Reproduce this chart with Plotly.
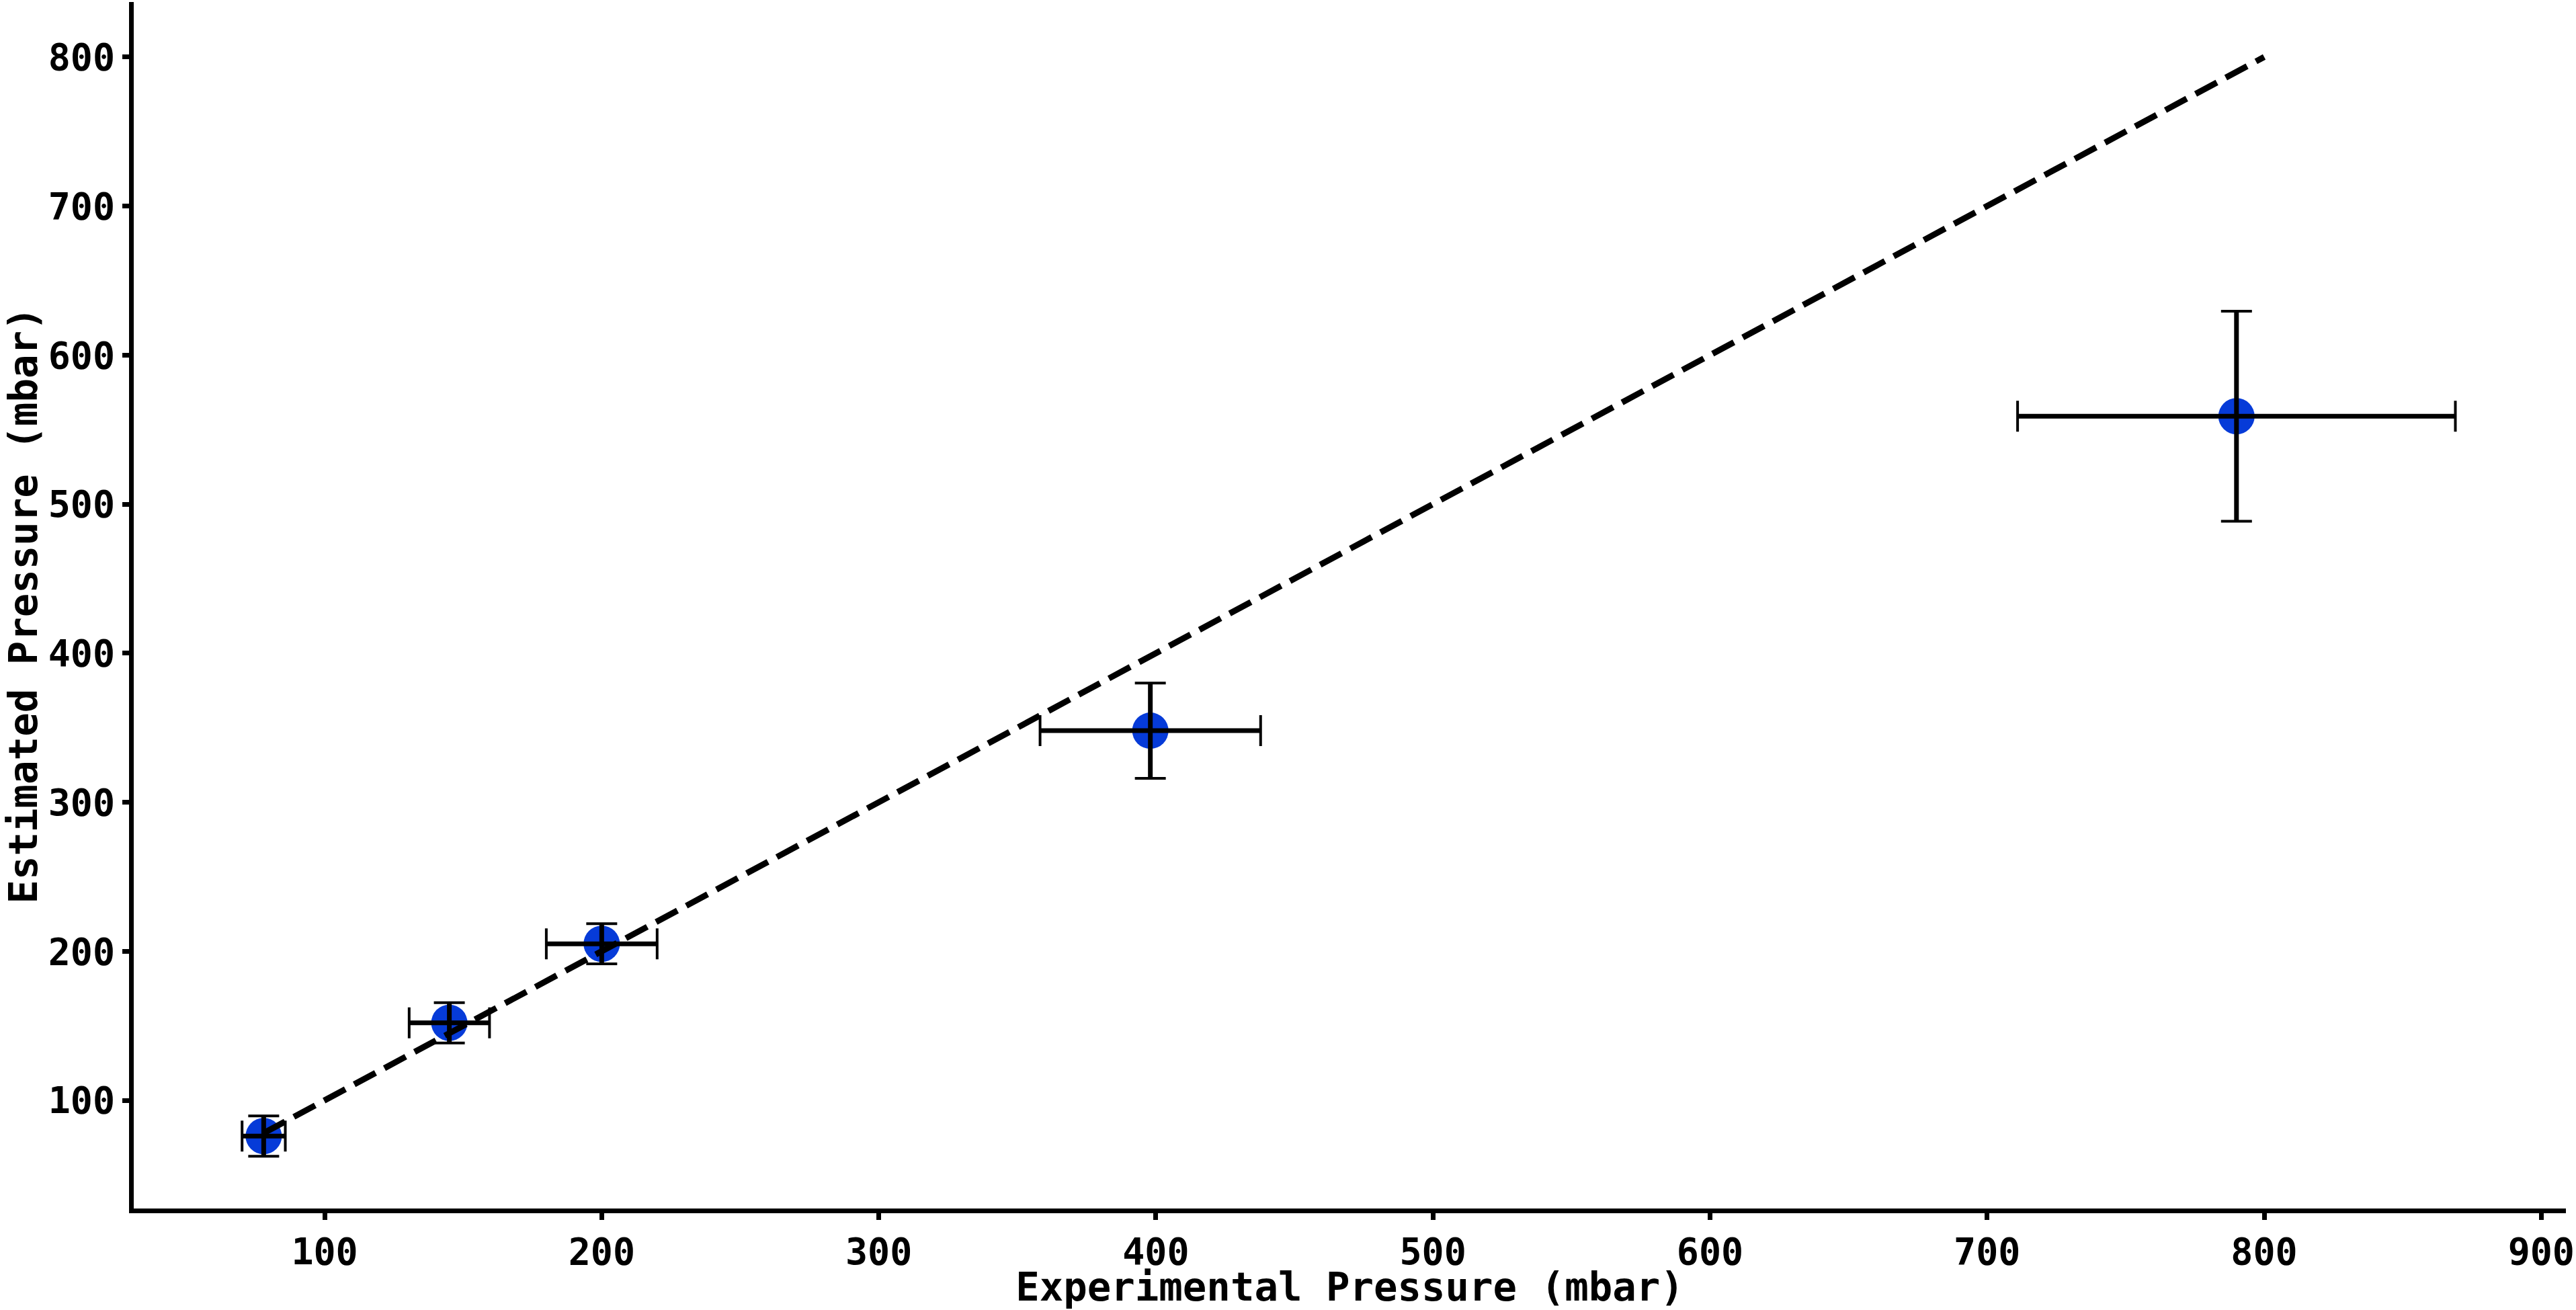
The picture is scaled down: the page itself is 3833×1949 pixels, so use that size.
import plotly.graph_objects as go

# Data
exp_pressure = [78, 145, 200, 398, 790]          # Experimental Pressure (mbar)
exp_err = [7.8, 14.5, 20.0, 39.8, 79.0]
est_pressure = [76, 152, 205, 348, 559]          # Estimated Pressure (mbar)
est_err = [13.5, 13.5, 13.5, 32.0, 70.5]

ideal_x = [78, 800]
ideal_y = [78, 800]

x_ticks = [100, 200, 300, 400, 500, 600, 700, 800, 900]
y_ticks = [100, 200, 300, 400, 500, 600, 700, 800]

FONT = "DejaVu Sans Mono"
MARKER_BLUE = "#063bd8"

fig = go.Figure()

# markers (bottom layer)
fig.add_trace(go.Scatter(
    x=exp_pressure, y=est_pressure, mode="markers",
    marker=dict(size=54, color=MARKER_BLUE, line=dict(width=0)),
    showlegend=False, hoverinfo="skip",
))

# error-bar caps (thin)
fig.add_trace(go.Scatter(
    x=exp_pressure, y=est_pressure, mode="markers",
    marker=dict(size=1, color="rgba(0,0,0,0)"),
    error_x=dict(type="data", array=exp_err, visible=True, color="black", thickness=4, width=23),
    error_y=dict(type="data", array=est_err, visible=True, color="black", thickness=4, width=23),
    showlegend=False, hoverinfo="skip",
))

# error-bar stems (thick)
fig.add_trace(go.Scatter(
    x=exp_pressure, y=est_pressure, mode="markers",
    marker=dict(size=1, color="rgba(0,0,0,0)"),
    error_x=dict(type="data", array=exp_err, visible=True, color="black", thickness=7, width=0),
    error_y=dict(type="data", array=est_err, visible=True, color="black", thickness=7, width=0),
    showlegend=False, hoverinfo="skip",
))

# ideal y = x dashed line
fig.add_trace(go.Scatter(
    x=ideal_x, y=ideal_y, mode="lines",
    line=dict(color="black", width=9, dash="36px,15px"),
    showlegend=False, hoverinfo="skip",
))

axis_common = dict(
    showline=True, linewidth=7, linecolor="black", mirror=False,
    ticks="outside", ticklen=10, tickwidth=7, tickcolor="black",
    showgrid=False, zeroline=False,
    tickfont=dict(family=FONT, size=55, color="black", weight="bold"),
)

fig.update_layout(
    width=3833, height=1949,
    margin=dict(l=199, r=15, t=3, b=151, autoexpand=False),
    paper_bgcolor="white", plot_bgcolor="white",
    xaxis=dict(
        range=[31.1, 908.9], tickvals=x_ticks, ticktext=[str(v) for v in x_ticks],
        title=dict(text="Experimental Pressure (mbar)", standoff=16,
                   font=dict(family=FONT, size=59, color="black", weight="bold")),
        automargin=False,
        **axis_common,
    ),
    yaxis=dict(
        range=[27.4, 836.9], tickvals=y_ticks, ticktext=[str(v) for v in y_ticks],
        title=dict(text="Estimated Pressure (mbar)", standoff=22,
                   font=dict(family=FONT, size=59, color="black", weight="bold")),
        automargin=False,
        **axis_common,
    ),
)

fig.write_html("out.html")
